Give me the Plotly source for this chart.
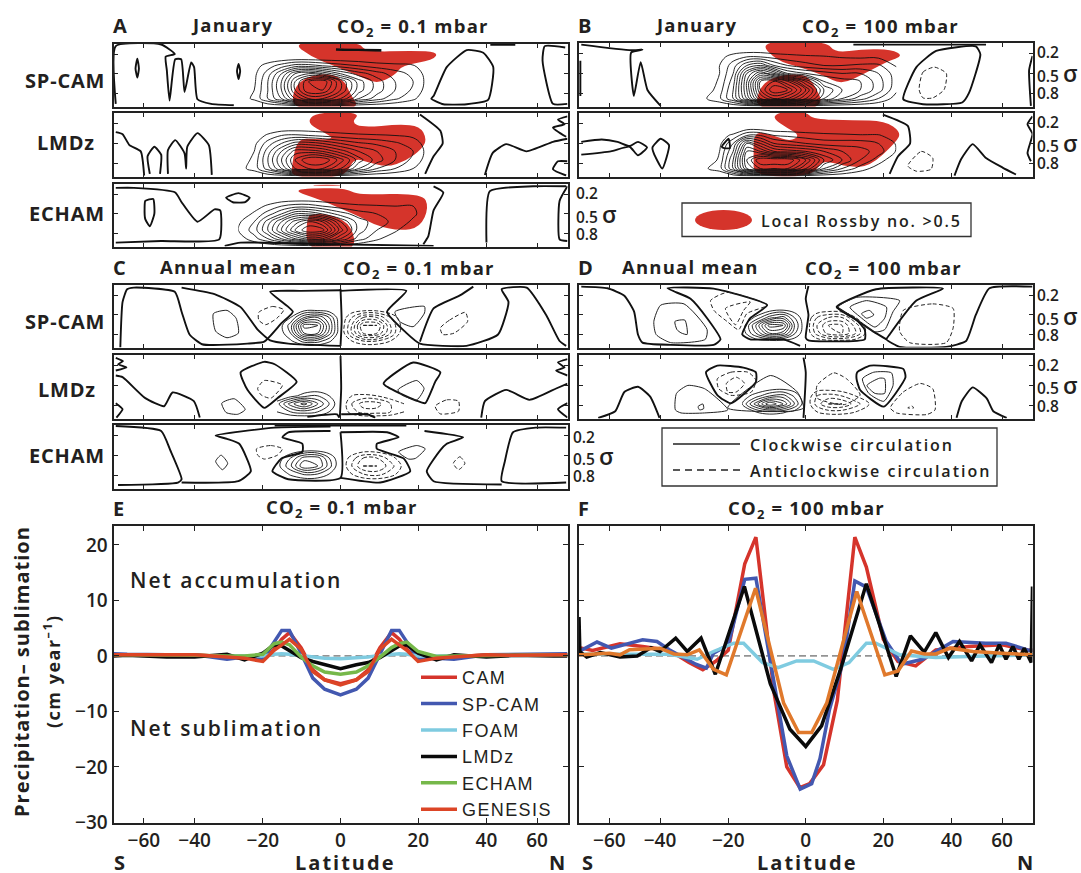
import numpy as np
import plotly.graph_objects as go

# ---- shared contour grids: x = 100*sin(latitude), s = 100*sigma
JAN_X = [-45,-38,-32,-26,-20,-14,-8,0,8,16,24,32,40]
JAN_S = [12,25,38,50,62,75,88,100]
ANN_X = [-28,-22,-16,-10,-5,0,5,10,16,22,28]
ANN_S = [30,42,54,66,78,90,100]
LAT_TICKS = [-60,-40,-20,0,20,40,60]
LAT_TEXT = ["−60","−40","−20","0","20","40","60"]
SIGMA_TICKS = [20,50,80]

# ---- panel A, SP-CAM
A1_Z = [[0]*13,[0]*13,
 [0,.5,1.5,2.5,3.5,3.5,3,2.5,2,1.5,1.3,1.1,.3],
 [0,.7,2.5,5,8,9,8,6,4.5,3.5,2.5,1.7,.3],
 [0,.8,3,6,10,13,14,10,6.5,4.5,3,2,.3],
 [0,1,3,6,10,13,13,10,6.5,4.5,3,1.8,.2],
 [.4,1.2,3,5,8,10,10,8,5,3.5,2.2,1.2,0],
 [0]*13]
A1_THICK = [
 [(-99,96),(-99,8),(-79,5.5),(-73,20),(-77,24),(-76.5,45),(-75.3,91),(-72.8,28),(-70.2,28),(-68.7,78),(-65.8,33),(-64.5,40),(-63,89),(-57,96),(-47,98)],
 [(41,84),(46.8,40),(55.6,14),(62.9,18),(67.3,40),(65,90),(55.6,96.5),(45.3,96.5),(40,88),(41,84)],
 [(99,10),(90,8),(89,30),(93.6,96),(100,96)],
 [(-2,14),(18,14),(-2,13),(18,15)],
 [(66,6),(77,6)],
 [(-89.5,27),(-88.8,42),(-89.5,56),(-90.3,42),(-89.5,27)],
 [(-44.9,35),(-44.2,46),(-44.9,58),(-45.6,46),(-44.9,35)]]
A1_RED = [
 [(-22,1),(8,1),(11,17),(32,15),(43,17),(41,29),(27,38),(24,52),(16,66),(7.3,52),(-3,38),(-12.5,25)],
 [(-21,74),(-15,54),(-4.4,49),(2,62),(4,79),(9,106),(-21,106)]]

# ---- panel A, LMDz
A2_Z = [[0]*13,[0]*13,
 [0,.3,1.2,2,2.2,2,1.7,1.4,1.2,1.1,1,.8,.2],
 [0,.7,2.5,4,5.5,5.5,5,4,3.2,2.8,2.2,1.5,.3],
 [0,1,3.5,6,8.5,8.5,8,6.5,5,4,3,2,.3],
 [.2,1.3,4,7,10,12,12,9.5,6.5,4.5,3,1.7,.2],
 [.6,1.4,3.5,6,9,10,10,8,5,3,2,1,0],
 [0]*13]
A2_THICK = [
 [(-99,33),(-96,36),(-93,52.5),(-88,62),(-86.5,98.5)],
 [(-84,96),(-85,69.5),(-82,55),(-79,67),(-79.5,96)],
 [(-76,96),(-76,60),(-72.8,45),(-68.7,65),(-68,88),(-67.5,55),(-63,34.5),(-58,52.5),(-56.7,97.6)],
 [(35,6.4),(44,31),(45,50),(41,69.5),(37.3,96)],
 [(63.6,97.6),(67,64.6),(73,51),(82,62),(93.6,47.6),(100,43)],
 [(100,9),(95.8,14),(98.7,21),(93.6,26),(99.4,40)],
 [(100,77),(95.8,77),(93.6,89),(99.4,98.5)]]
A2_RED = [[(-15,19),(-11,3),(9,3),(4.7,18.6),(10,26),(26,21),(35,24),(38,43),(36,58),(29,76),(20.5,86),(11.7,78),(5.8,72),(2,102),(-21.5,102),(-21.5,84),(-19,42),(-10,44),(-3,43),(-6,35.5)]]

# ---- panel A, ECHAM
A3_Z = [[0]*13,[0]*13,
 [0,.5,1.2,2,2.5,2.5,2,1.5,1.2,1.1,1,1,.3],
 [.2,1.2,2.5,4,6,6,5,3.5,2.5,2,1.6,1.2,.2],
 [.8,2,4.5,7,9.5,11,10,6,3.5,2.5,1.7,.8,0],
 [1,2.5,5,8,11,13,12.5,7.5,3.5,2,1.2,0,0],
 [.4,1.6,3,5,7,8.5,8,5,2.5,1.2,.3,0,0],
 [0]*13]
A3_THICK = [
 [(-99,10),(-91,10),(-72.8,17),(-70,32),(-63,62),(-55.5,43),(-53,44.6),(-53.4,89),(-79,91.6),(-99,94)],
 [(-86,30),(-82.5,27),(-82,49.5),(-84,69),(-86,58),(-86.3,39.6),(-86,30)],
 [(-50.4,25),(-45,18),(-40,25),(-42,32),(-47.4,32),(-50.4,25)],
 [(41,7.5),(45.3,17),(41,44.6),(38.7,84),(36.5,96.5)],
 [(64.3,94),(65.8,15),(84.8,7.5),(99.4,7.5)],
 [(100,7.5),(96.5,30),(96.5,89),(100,91.6)],
 [(-51,99),(-44,94),(-3,96.5),(41,99)]]
A3_RED = [
 [(-21,14),(-12,10),(3,11),(7.3,21),(36,18),(39,40),(35,71),(26,76),(16,68),(8.8,55),(-3,37),(-10,27)],
 [(-15,56),(-12,49),(-3,52),(5,68),(7,108),(-15,108)],
 [(-12,5),(0,5),(0,6.5),(-12,6.5)]]

# ---- panel B, SP-CAM
B1_Z = [[0]*13,
 [0,.6,1.5,2,2,1.6,1.4,1.2,1.1,.9,.8,.8,.3],
 [0,1,2.5,5,6,4,3,2.4,2,2,2.2,2.2,.9],
 [0,1,3,8,11,9,6,5,4.5,4,4,3,1.5],
 [0,1.2,3.5,9,15,16,14,10,6,5.5,5,3.5,1.5],
 [.2,1.5,4,9,15,18,17,13,8,6,5,3.5,1.2],
 [.8,1.8,4,8,13,15,14,11,7,5,3.5,2,.5],
 [0]*13]
B1_THICK = [
 [(-99,6.4),(-77,15),(-72,14),(-77,18.6),(-75.8,84),(-72.8,33),(-69.8,75),(-64,99)],
 [(-99.4,31),(-99.4,84)],
 [(43,89),(48.8,40.5),(57.5,16),(75,9),(77,21),(72,79.5),(69,94),(51.7,96.5),(43,89)],
 [(100,23.5),(98.5,45),(99.3,99)],
 [(21,6.4),(79.5,6.4)]]
B1_DASH = [[(50,74.6),(51.7,48),(56.8,40.5),(62,50),(61,74.6),(56,87),(51.7,87)]]
B1_RED = [
 [(-21,1),(9,1),(13,19),(25.3,13),(38,14),(43,23.5),(36,32),(26,50),(15.8,67),(7.8,53),(-2.5,40.5),(-12.7,31)],
 [(-21,75),(-15,55),(-2.5,50),(3,60),(9,106),(-22,106)]]

# ---- panel B, LMDz
B2_Z = [[0]*13,[0]*13,
 [0,.6,1.2,3,3,2,1.8,1.5,1.3,1.2,1.1,1.1,.5],
 [0,.7,3,8,6,4,3.5,3,2.5,2.5,2.5,2,.9],
 [0,1,4,10,9,7,6.5,6,5,4,3.5,2.5,.9],
 [0,1.2,5,11,14,14,14,11,7,5,3,1.5,.2],
 [.8,1.5,5,10,12,12,12,9,5,3,1.5,.5,0],
 [0]*13]
B2_THICK = [
 [(-99,47.6),(-90,44),(-83,47.6),(-77.7,54),(-74,47.6),(-70,56),(-74,68),(-77.7,55),(-86,62),(-99,67)],
 [(-67.6,56),(-64,43),(-60.3,52.5),(-63.3,88),(-67,65),(-67.6,56)],
 [(-37,55),(-34,43),(-33.5,57),(-36,57),(-37,55)],
 [(34,6.4),(45,23.4),(46,50),(40.7,69.5),(37,96)],
 [(65.6,98.6),(68.5,74),(73.6,51),(79.5,72),(86.8,86.5),(92.7,97)],
 [(100,9),(97.8,21),(100,35.5),(97.8,64.6),(99.3,77)]]
B2_DASH = [[(45,84),(51,62),(56,72),(55.3,89),(48.8,92)]]
B2_RED = [[(-15,11),(-11,2),(0,2),(3.4,13.7),(21,15),(35,16),(42,33),(40,47.6),(28,86),(18,85),(12,79),(7,77),(2.5,100),(-23,100),(-23,69.5),(-23,31),(-14,38),(-7,47),(-2.5,38),(-8,27)]]

# ---- panel C, SP-CAM
C1_Z = [[0]*11,
 [0,0,.5,.5,.3,0,-.3,-.5,-.5,0,0],
 [0,1,4,5,3,0,-2,-4,-4,-2,0],
 [0,2.5,8.5,8,4,0,-3,-7,-7,-3,-.3],
 [0,2,7,7,3.5,0,-3,-6,-6,-3,0],
 [0,.8,2.5,2.5,1.2,0,-1,-2,-2,-1,0],
 [0]*11]
C1_THICK = [
 [(-97,100),(-96,30),(-94,10.5),(-91,8),(-73,14.4),(-70,45),(-66.5,80),(-61,95),(-41,94),(-33.6,91),(-26,62.6),(-21,45),(-31,14.4),(-17.5,13),(0,12)],
 [(-70,8),(-55.5,18),(-44,38),(-36.5,72.6),(-31,89),(-23,94),(0,97.5)],
 [(0,10),(0.5,60),(0,97.5)],
 [(0,13),(29,13),(20.5,45),(29,77.5),(35,94),(55.5,97.5),(69.4,80),(74,30),(71,10.5),(82,8),(90.6,50),(96.5,90),(99.4,97.5)],
 [(58.5,6.5),(52.6,20),(41,40),(35,91)]]
C1_THIN = [
 [(-56,48),(-50,43),(-46,55),(-45,78),(-50,85),(-55,75)],
 [(24,45),(37,37),(37,47),(32,68),(26,60)]]
C1_DASH = [
 [(-36,46),(-30,37),(-25,42),(-28,55),(-33,65),(-36,58)],
 [(44,70),(48,58),(55,46),(56,60),(50,78),(45,80)]]

# ---- panel C, LMDz
C2_Z = [[0]*11,[0]*11,[0]*11,
 [0,.5,1.5,2,1,0,-1,-1.2,-1,-.3,0],
 [1.5,4.5,6.5,4,2,0,-2,-3.5,-3.5,-2,-1],
 [1,2,2.5,2,1,0,-1.5,-2.5,-2.5,-2,-1],
 [0]*11]
C2_THICK = [
 [(-99,35.5),(-96,38),(-86,69.5),(-77.7,81.6),(-74,61),(-64.6,74),(-62,98.6)],
 [(-99,9),(-95.8,14),(-98,18.6),(-94.3,23.4),(-99,28)],
 [(-99,77),(-96,86),(-98.7,98.6)],
 [(-44,30.7),(-33.6,15),(-29,18.6),(-19.3,45),(-27.8,69.5),(-33.6,84),(-41,57),(-44,30.7)],
 [(0,6.4),(.3,55),(-.3,98.6)],
 [(19,47.6),(32,16),(44,30.7),(41.7,45),(37.3,77),(33.6,73.4),(19,47.6)],
 [(62,98.6),(63.6,74),(73,57),(83.3,72),(95,55),(100,47.6)],
 [(100,11),(95.8,16),(98.7,23.4),(95,28),(100,35.5)],
 [(100,77),(95.8,86),(100,98.6)],
 [(-14.6,97.6),(-1.5,93.7),(-.6,98.6)],
 [(.3,93.7),(11.7,93.7),(15.3,98.6)]]
C2_THIN = [
 [(25.3,57),(33.6,43),(36.8,55),(33.6,72),(27,64.6)],
 [(-52.3,77),(-46.8,70.4),(-42,86.5),(-45.3,93.7),(-50.4,91)]]
C2_DASH = [
 [(-36.5,55),(-33.6,43),(-25.6,50),(-30.7,69.5),(-35,64.6)],
 [(41.7,81.6),(46.8,72),(52,74),(52,89),(43.9,93)]]

# ---- panel C, ECHAM
C3_Z = [[0]*11,
 [0,.1,.5,.5,.2,0,-.1,-.4,-.3,-.1,0],
 [.2,2,4.5,4.5,2,0,-1.5,-3,-3,-1.5,-.1],
 [.5,2.8,6,5,2.5,0,-2,-4,-4,-2.5,-.6],
 [0,1.2,2.2,2,1,0,-1,-2,-2.5,-1.5,-.3],
 [0]*11,[0]*11]
C3_THICK = [
 [(-99,5.5),(-79,13),(-75,42),(-70,86),(-71.6,91),(-98,94.7)],
 [(-4.4,6.5),(-29,8),(-55,20),(-50,25),(-44.6,32.4),(-39.5,74),(-45,89),(-70,91)],
 [(-4.4,13),(-23,15),(-25.6,22.6),(-16.8,32.4),(-16.8,44.7),(-26,54.5),(-30,74),(-23,86),(0,84),(0,15)],
 [(0,15),(20.5,15),(25.6,22.6),(16,32.4),(16,40),(27.8,54.5),(30.7,74),(17.5,91),(0,84)],
 [(37,13),(54,22.6),(46.8,32.4),(44,42),(38,74),(41,89),(71,94)],
 [(99.4,8),(86,8),(76,15),(72.4,59),(71,89),(99.4,91)],
 [(-29,5),(29,5)]]
C3_THIN = [
 [(-55,59),(-52.6,49.6),(-49.7,62),(-52,71.6)],
 [(25.6,44.7),(33.6,35),(37.3,40),(33,54.5),(30,55.5)]]
C3_DASH = [
 [(-37,40),(-30.7,35),(-25.6,40),(-27.8,49.6),(-33.6,55.5),(-36.5,49.6)],
 [(49.7,62),(52.6,52),(54.8,62),(52,71.6)]]

# ---- panel D, SP-CAM
D1_Z = [[0]*11,
 [0,0,.4,.8,.4,0,-.2,-.4,-.2,0,0],
 [0,1.2,3.5,4.5,2,0,-2,-3,-3,-1,0],
 [.2,4,8.5,8,3,0,-3,-5,-5,-2.5,0],
 [.3,3,6,5.5,2.2,0,-2.5,-4.5,-5,-3,-.2],
 [0,.3,.6,.5,.3,0,-.3,-.6,-.6,-.4,0],
 [0]*11]
D1_THICK = [
 [(-99,6.5),(-87.4,9),(-80,20.4),(-75.7,45),(-74,80),(-72,92.5),(-59.6,96),(-40.6,96),(-37.6,87.5),(-43.5,55),(-50.8,25),(-61,9),(-40.6,9.5),(-17,35),(-24.5,55),(-28,80),(-24.5,87.5),(-9.8,87.5),(-2.5,97.5)],
 [(1.2,5.5),(0,25),(1.2,50),(0,85),(1.2,89),(26,87.5),(26,72.6),(22.4,57.7),(13.6,38),(31,10.5),(60.5,9.5),(48.8,28),(37,80),(35.6,87.5),(41.4,99),(62,99),(70.7,90),(75,50),(81,9),(100,6.5)],
 [(13.6,38),(22.4,57.7),(30,76),(35.6,87.5)]]
D1_THIN = [
 [(14.3,38),(22.4,23),(41.4,28),(38.5,45),(34.8,72.6),(30.5,76),(21,53)],
 [(19.5,38),(26.8,28),(35.6,38),(34.8,55),(30.5,68.6),(24,53)],
 [(24.6,48),(28,43),(30,50),(26.8,55)],
 [(-67,60),(-64,35),(-53.7,33),(-43.5,72.6),(-44.3,87.5),(-59.6,92.5),(-66,80)],
 [(-57.7,60),(-53.3,58),(-52.3,80),(-55,77.5),(-56.8,72.6)]]
D1_DASH = [
 [(-42,28),(-34.7,15.4),(-17,35),(-26,48),(-29.6,72.6),(-34.7,60),(-40.5,43)],
 [(-35.4,40),(-24.5,30),(-27.4,43),(-31,65)],
 [(43,43),(56,33),(65,40),(65,70),(62,92.5),(45.8,92.5),(41.4,75)]]

# ---- panel D, LMDz
D2_Z = [[0]*11,[0]*11,
 [0,0,.3,.5,.3,0,-.4,-.4,-.2,0,0],
 [.4,1.5,3,3.5,1.8,0,-2,-2.5,-2,-1,-.2],
 [1,4.5,8,6,3,0,-2.5,-4,-4,-2.5,-1],
 [.2,1,1.5,1.2,.6,0,-1,-1.5,-1.5,-1,-.5],
 [0]*11]
D2_THICK = [
 [(-91.5,99),(-84,89),(-80,60),(-74,52),(-68.6,67),(-64.5,99)],
 [(66.5,99),(68.8,74),(73.6,53),(79.8,69.5),(82.7,89),(88.6,99)],
 [(-1,8),(0,30),(-1,99)],
 [(-44,30),(-39,20),(-27.5,23),(-22,30),(-22,45),(-33,77),(-39,64.5),(-44,30)],
 [(22.7,30),(28.5,20),(43,25),(44,37.5),(34.4,82),(24,57),(22.4,40),(22.7,30)]]
D2_THIN = [
 [(-57.5,87),(-57,62),(-52,50),(-44.6,55),(-34.4,87),(-44.6,91.6),(-55,91.6)],
 [(-47.5,82),(-45.4,78),(-45,85),(-46.8,87)],
 [(-34.4,84),(-15.5,35),(-3.7,60),(-1,84),(-6.6,89)],
 [(25,40),(30,30),(37.8,31),(38.5,50),(34.4,74),(27.8,62)],
 [(27,50),(32.6,39),(34.8,40),(34.8,62),(30.5,62)]]
D2_DASH = [
 [(-39,40),(-33,30),(-25.5,30),(-22,42),(-24,60),(-33,65),(-38.4,55)],
 [(-35,47),(-30.7,37.5),(-27,47),(-30.7,60),(-34.4,60)],
 [(5,50),(12.4,31),(18,40),(24,64.5),(17,79),(5,69)],
 [(37.3,84),(43,60),(50.5,47),(56,55),(57,87),(53.4,94),(40,91.6)],
 [(45,84),(46.8,81),(47.6,84)]]

# ---- panel E series (latitude, cm/yr)
E_LAT = [-90,-70,-50,-40,-30,-25,-20,-17,-15,-13,-10,-7,-4,0,4,7,10,13,15,17,20,25,30,40,50,70,90]
CAM_E = [.2,.2,.1,.2,-.2,-.3,-.8,1.2,3,4.2,1.5,-2.5,-4.3,-5,-4.3,-2.5,1.5,4.2,3,1.2,-.8,-.3,-.2,.2,.1,.2,.2]
SPCAM_E = [.4,.3,.2,.2,-.6,-.2,-.6,2.5,4.6,4.6,.5,-4,-6,-7,-6,-4,.5,4.6,4.6,2.5,-.6,-.4,-.6,.2,.3,.3,.4]
FOAM_E = [.1,.1,.1,.1,0,0,0,.3,.4,.3,.1,-.2,-.4,-.5,-.4,-.2,.1,.3,.4,.3,0,0,0,.1,.1,.1,.1]
LMDZ_E = [0,.1,-.2,-.2,.3,-.7,.5,2,1.8,1,-.3,-1,-1.6,-2.3,-1.6,-1.2,-.3,1,1.8,2,.5,-.7,.2,-.2,.1,0,0]
ECHAM_E = [.2,.2,.2,.1,0,0,.3,2.2,2.5,2,-.2,-1.8,-2.9,-3.3,-2.9,-1.8,-.2,1.5,2.2,2.5,.8,-.1,0,.1,.2,.2,.2]
GENESIS_E = [.2,.2,.1,.2,-.2,-.4,-1,1,2,3,1.2,-2.8,-4.3,-5.2,-4.3,-2.8,1.2,3,2,1,-1,-.4,-.2,.2,.1,.2,.2]

# ---- panel F series
CAM_F_LAT = [-90,-82,-70,-55,-46,-37,-31,-27,-23.5,-20,-15.6,-12.7,-8,-4.8,-1.5,1,4.5,8,12.5,15.5,20,24,29,35,46,60,80,90]
CAM_F = [1,1.4,1,2.2,1.7,1,-1.2,-2.5,-1,1,16.6,21.4,-6.8,-20,-23.7,-23,-19.6,-8,21.4,16,3,-1,-1.8,1.1,1.7,2,1,1]
SPCAM_F_LAT = [-90,-82,-67,-59,-46,-41,-37,-29,-26,-24,-20,-15.6,-12.7,-8,-4.8,-1.4,1.5,3.6,6,9.5,12.5,15.5,20.8,25,31,40.5,52.6,62,80,90]
SPCAM_F = [1,1,2.5,1.4,2.9,2.6,1.1,-1.5,-2.2,.5,2,13.8,14,-4.5,-18,-24,-23,-18.5,-9.7,-1,13.5,12.4,2.6,-1.5,-.6,2.6,2.3,2.3,1,1]
FOAM_F_LAT = [-90,-82,-37,-28.6,-24,-18.5,-15.9,-11,-7,-2.3,2,7,11,15.5,18,24.5,35,52,80,90]
FOAM_F = [.3,.3,.3,-.6,.8,2.3,2.3,-1.2,-2.1,-.9,-.9,-2.4,-1.2,2.3,2.3,.2,-.3,0,.2,.2]
LMDZ_F_LAT = [-90,-85,-75,-65,-55,-48,-43,-40,-35,-31.5,-27.5,-23.5,-15.7,-9,-4,0,4,8.7,15.5,23.5,27.5,31.5,35,39,42.7,47,50.2,55,58.6,62,66,70,74.5,84,90]
LMDZ_F = [7,.8,-.2,.6,-.2,0,1.5,.8,3.2,.8,3.2,-3.3,12.5,-5,-13.2,-16.3,-12.6,-2.7,13,-3.7,3.6,.7,4.2,-.3,2.6,-.9,2,-1.2,2,-.6,1.7,-.6,1.4,-1.2,12.5]
GENESIS_F_LAT = [-90,-82,-60,-55,-51,-40,-35.5,-31.5,-28,-24,-20.5,-12.8,-5.6,-1.8,1.5,5.3,13,20.4,24,27.8,31.6,35,39.5,47.5,60,80,90]
GENESIS_F = [.2,.2,.5,.2,1.1,1.4,.35,.2,1.1,-2.4,-3.4,12.2,-8.5,-13.8,-13.8,-8.5,11.6,-3.4,-2.7,.9,.35,.35,1.4,.8,.5,.2,.2]
ZERO_LAT = [-90,90]
ZERO_VAL = [0,0]
Y_TICKS = [-30,-20,-10,0,10,20]
Y_TEXT = ["−30","−20","−10","0","10","20"]

INK = "#231f20"
RED = "#d5342b"
W, H = 1081, 873
FONT = "Open Sans"
LEG = '<span style="letter-spacing:1.4px">%s</span>'

fig = go.Figure()
shapes, annos = [], []
layout = {}
n_axes = [0]


def sinx(lat):
    return (100*np.sin(np.radians(np.array(lat, dtype=float)))).tolist()


TICKX = sinx(LAT_TICKS)


def panel(l, t, r, b):
    n_axes[0] += 1
    i = n_axes[0]
    sfx = "" if i == 1 else str(i)
    base = dict(showline=True, linecolor="#222", linewidth=2, mirror="allticks", ticks="inside", automargin=False,
                ticklen=4, tickwidth=1, tickcolor="#222", showgrid=False, zeroline=False)
    layout["xaxis"+sfx] = dict(base, domain=[(l+1)/W, (r-1)/W], range=[-100, 100], anchor="y"+sfx,
                               tickvals=TICKX, showticklabels=False)
    layout["yaxis"+sfx] = dict(base, domain=[1-(b-1)/H, 1-(t+1)/H], range=[100, 4], anchor="x"+sfx,
                               tickvals=SIGMA_TICKS, showticklabels=False)
    return "x"+sfx, "y"+sfx


def join(lines, close=False):
    xs, ys = [], []
    for ln in lines:
        pts = list(ln) + ([ln[0]] if close else [])
        xs += [p[0] for p in pts] + [None]
        ys += [p[1] for p in pts] + [None]
    return xs, ys


def contour(xa, ya, X, S, Z, start, end, dash):
    fig.add_trace(go.Contour(x=X, y=S, z=Z, xaxis=xa, yaxis=ya, autocontour=False, showscale=False,
                             contours=dict(coloring="none", start=start, end=end, size=1, showlabels=False),
                             line=dict(color="#111", width=.9, smoothing=1, dash=dash), hoverinfo="skip", showlegend=False))


def rounded(poly):
    """SVG outline that uses the read points as quadratic control points."""
    n = len(poly)
    mid = lambda a, b: ((a[0]+b[0])/2, (a[1]+b[1])/2)
    m0 = mid(poly[-1], poly[0])
    d = f"M {m0[0]:.2f},{m0[1]:.2f}"
    for i in range(n):
        m = mid(poly[i], poly[(i+1) % n])
        d += f" Q {poly[i][0]},{poly[i][1]} {m[0]:.2f},{m[1]:.2f}"
    return d + " Z"


def draw(box, X, S, Z, thick, thin=(), dashed=(), red=()):
    xa, ya = panel(*box)
    for poly in red:
        shapes.append(dict(type="path", path=rounded(poly), xref=xa, yref=ya, fillcolor=RED,
                           line=dict(width=0), layer="below"))
    contour(xa, ya, X, S, Z, 1, 18, "solid")
    if min(min(r) for r in Z) < 0:
        contour(xa, ya, X, S, Z, -18, -1, "4px,2px")
    x, y = join(thick)
    fig.add_trace(go.Scatter(x=x, y=y, xaxis=xa, yaxis=ya, mode="lines", showlegend=False, hoverinfo="skip",
                             line=dict(color="#111", width=1.9, shape="spline", smoothing=.5)))
    if thin:
        x, y = join(thin, True)
        fig.add_trace(go.Scatter(x=x, y=y, xaxis=xa, yaxis=ya, mode="lines", showlegend=False, hoverinfo="skip",
                                 line=dict(color="#222", width=1, shape="spline", smoothing=.6)))
    if dashed:
        x, y = join(dashed, True)
        fig.add_trace(go.Scatter(x=x, y=y, xaxis=xa, yaxis=ya, mode="lines", showlegend=False, hoverinfo="skip",
                                 line=dict(color="#222", width=1, dash="4px,2.5px", shape="spline", smoothing=.6)))


draw((112.5, 42.5, 568.5, 107.5), JAN_X, JAN_S, A1_Z, A1_THICK, red=A1_RED)
draw((112.5, 112, 568.5, 177.5), JAN_X, JAN_S, A2_Z, A2_THICK, red=A2_RED)
draw((112.5, 183, 568.5, 247.5), JAN_X, JAN_S, A3_Z, A3_THICK, red=A3_RED)
draw((578, 42, 1033.5, 107.5), JAN_X, JAN_S, B1_Z, B1_THICK, dashed=B1_DASH, red=B1_RED)
draw((578, 112, 1033.5, 177.5), JAN_X, JAN_S, B2_Z, B2_THICK, dashed=B2_DASH, red=B2_RED)
draw((112.5, 284, 568.5, 348.5), ANN_X, ANN_S, C1_Z, C1_THICK, C1_THIN, C1_DASH)
draw((112.5, 353.5, 568.5, 419.5), ANN_X, ANN_S, C2_Z, C2_THICK, C2_THIN, C2_DASH)
draw((112.5, 424, 568.5, 489.5), ANN_X, ANN_S, C3_Z, C3_THICK, C3_THIN, C3_DASH)
draw((578, 284, 1033.5, 348.5), ANN_X, ANN_S, D1_Z, D1_THICK, D1_THIN, D1_DASH)
draw((578, 354, 1033.5, 419.5), ANN_X, ANN_S, D2_Z, D2_THICK, D2_THIN, D2_DASH)


def line_panel(l, t, r, b, labels):
    n_axes[0] += 1
    i = n_axes[0]
    sfx = str(i)
    base = dict(showline=True, linecolor="#222", linewidth=2, mirror="allticks", ticks="inside", automargin=False,
                ticklen=5, tickwidth=1.2, tickcolor="#222", showgrid=False, zeroline=False)
    font = dict(family=FONT, size=19, color=INK, weight=600)
    layout["xaxis"+sfx] = dict(base, domain=[(l+1)/W, (r-1)/W], range=[-100, 100], anchor="y"+sfx,
                               tickvals=TICKX, ticktext=LAT_TEXT, tickfont=font)
    layout["yaxis"+sfx] = dict(base, domain=[1-(b-1)/H, 1-(t+1)/H], range=[-30, 23.4], anchor="x"+sfx,
                               tickvals=Y_TICKS, ticktext=Y_TEXT, showticklabels=labels, tickfont=font)
    return "x"+sfx, "y"+sfx


def series(xa, ya, lat, val, name, color, width=3.5, legend=False, dash=None):
    fig.add_trace(go.Scatter(x=sinx(lat), y=val, xaxis=xa, yaxis=ya, mode="lines",
                             name=LEG % name if legend else name,
                             showlegend=legend, hoverinfo="skip", legendgroup=name,
                             line=dict(color=color, width=width, dash=dash)))


xa, ya = line_panel(112.5, 525, 568.5, 823.5, True)
series(xa, ya, ZERO_LAT, ZERO_VAL, "zero", "#444", 1, dash="7px,4px")
series(xa, ya, E_LAT, CAM_E, "CAM", "#d5342b", legend=True)
series(xa, ya, E_LAT, SPCAM_E, "SP-CAM", "#4358b0", legend=True)
series(xa, ya, E_LAT, FOAM_E, "FOAM", "#7fcbe0", legend=True)
series(xa, ya, E_LAT, LMDZ_E, "LMDz", "#0a0a0a", legend=True)
series(xa, ya, E_LAT, ECHAM_E, "ECHAM", "#76b84a", legend=True)
series(xa, ya, E_LAT, GENESIS_E, "GENESIS", "#dc4526", legend=True)

xa, ya = line_panel(578, 525, 1033.5, 823.5, False)
series(xa, ya, ZERO_LAT, ZERO_VAL, "zero", "#444", 1, dash="7px,4px")
series(xa, ya, CAM_F_LAT, CAM_F, "CAM", "#d5342b")
series(xa, ya, SPCAM_F_LAT, SPCAM_F, "SP-CAM", "#4358b0")
series(xa, ya, FOAM_F_LAT, FOAM_F, "FOAM", "#7fcbe0")
series(xa, ya, LMDZ_F_LAT, LMDZ_F, "LMDz", "#0a0a0a")
series(xa, ya, GENESIS_F_LAT, GENESIS_F, "GENESIS", "#e0792c")


def txt(x, y, s, size=17, anchor="center", angle=0, weight=700, family=FONT, space=0):
    if space:
        s = f'<span style="letter-spacing:{space}px">{s}</span>'
    annos.append(dict(x=x/W, y=1-y/H, xref="paper", yref="paper", text=s, showarrow=False, xanchor=anchor,
                      yanchor="middle", textangle=angle, borderpad=0, borderwidth=0,
                      font=dict(family=family, size=size, color=INK, weight=weight)))


for s, x, y in [("A", 113, 25), ("B", 578, 25), ("C", 113, 267), ("D", 578, 267), ("E", 113, 508), ("F", 578, 508)]:
    txt(x, y, s, 20, "left")
CO01 = "CO<sub>2</sub> = 0.1 mbar"
CO100 = "CO<sub>2</sub> = 100 mbar"
for s, x, y in [("January", 232, 24.5), (CO01, 413, 26.5), ("January", 696, 24.5), (CO100, 880, 26.5),
                ("Annual mean", 228, 266.5), (CO01, 419, 268.5), ("Annual mean", 690, 266.5), (CO100, 883, 268.5),
                (CO01, 342, 508), (CO100, 806, 509)]:
    txt(x, y, s, 18.5, space=1.2)
for s, x, y in [("SP-CAM", 105, 80), ("LMDz", 95, 143), ("ECHAM", 105, 213),
                ("SP-CAM", 105, 321), ("LMDz", 96, 390), ("ECHAM", 105, 455)]:
    txt(x, y, s, 20, "right", space=.8)
SIG = '0.5 <span style="font-size:23px">σ</span>'
for x, ys in [(1037, (52, 73, 93)), (1037, (122, 143, 163)), (576, (193, 214, 234)),
              (1037, (295, 316, 335)), (1037, (365, 385, 406)), (573, (437, 456, 476))]:
    txt(x, ys[0], "0.2", 15.5, "left", weight=600)
    txt(x, ys[1], SIG, 15.5, "left", weight=600)
    txt(x, ys[2], "0.8", 15.5, "left", weight=600)
txt(130, 580, "Net accumulation", 21, "left", weight=600, space=2)
txt(130, 728, "Net sublimation", 21, "left", weight=600, space=2)
txt(21, 672, "Precipitation– sublimation", 20, angle=-90, space=1)
txt(52, 671, "(cm year<sup>–1</sup>)", 18, angle=-90, space=1.5)
for s, x in [("S", 114), ("S", 582)]:
    txt(x, 862, s, 20, "left")
for s, x in [("N", 565), ("N", 1033)]:
    txt(x, 862, s, 20, "right")
txt(345, 862, "Latitude", 20, space=2)
txt(807, 862, "Latitude", 20, space=2)

# keys drawn inside the page
shapes.append(dict(type="rect", xref="paper", yref="paper", x0=682/W, x1=971/W, y0=1-236.5/H, y1=1-203/H,
                   line=dict(color="#333", width=1.3), fillcolor="white"))
shapes.append(dict(type="circle", xref="paper", yref="paper", x0=695/W, x1=752/W, y0=1-230/H, y1=1-210/H,
                   line=dict(width=0), fillcolor=RED))
txt(761, 221, "Local Rossby no. &gt;0.5", 16, "left", weight=600, space=1.8)
shapes.append(dict(type="rect", xref="paper", yref="paper", x0=662/W, x1=997/W, y0=1-486/H, y1=1-428/H,
                   line=dict(color="#333", width=1.3), fillcolor="white"))
shapes.append(dict(type="line", xref="paper", yref="paper", x0=673/W, x1=740/W, y0=1-444/H, y1=1-444/H,
                   line=dict(color="#222", width=1.6)))
shapes.append(dict(type="line", xref="paper", yref="paper", x0=673/W, x1=740/W, y0=1-470/H, y1=1-470/H,
                   line=dict(color="#222", width=1.3, dash="7px,5px")))
txt(750, 445, "Clockwise circulation", 16, "left", weight=600, space=2)
txt(750, 471, "Anticlockwise circulation", 16, "left", weight=600, space=2)

fig.update_layout(width=W, height=H, margin=dict(l=0, r=0, t=0, b=0, autoexpand=False), autosize=False,
                  paper_bgcolor="white", plot_bgcolor="white", shapes=shapes, annotations=annos,
                  showlegend=True,
                  legend=dict(x=416/W, y=1-659/H, xanchor="left", yanchor="top", bgcolor="rgba(0,0,0,0)",
                              itemwidth=36, tracegroupgap=0, traceorder="normal",
                              font=dict(family="Liberation Sans", size=18, color=INK)),
                  **layout)
fig.write_html("out.html", post_script="document.body.style.margin='0';", config={"displayModeBar": False})
